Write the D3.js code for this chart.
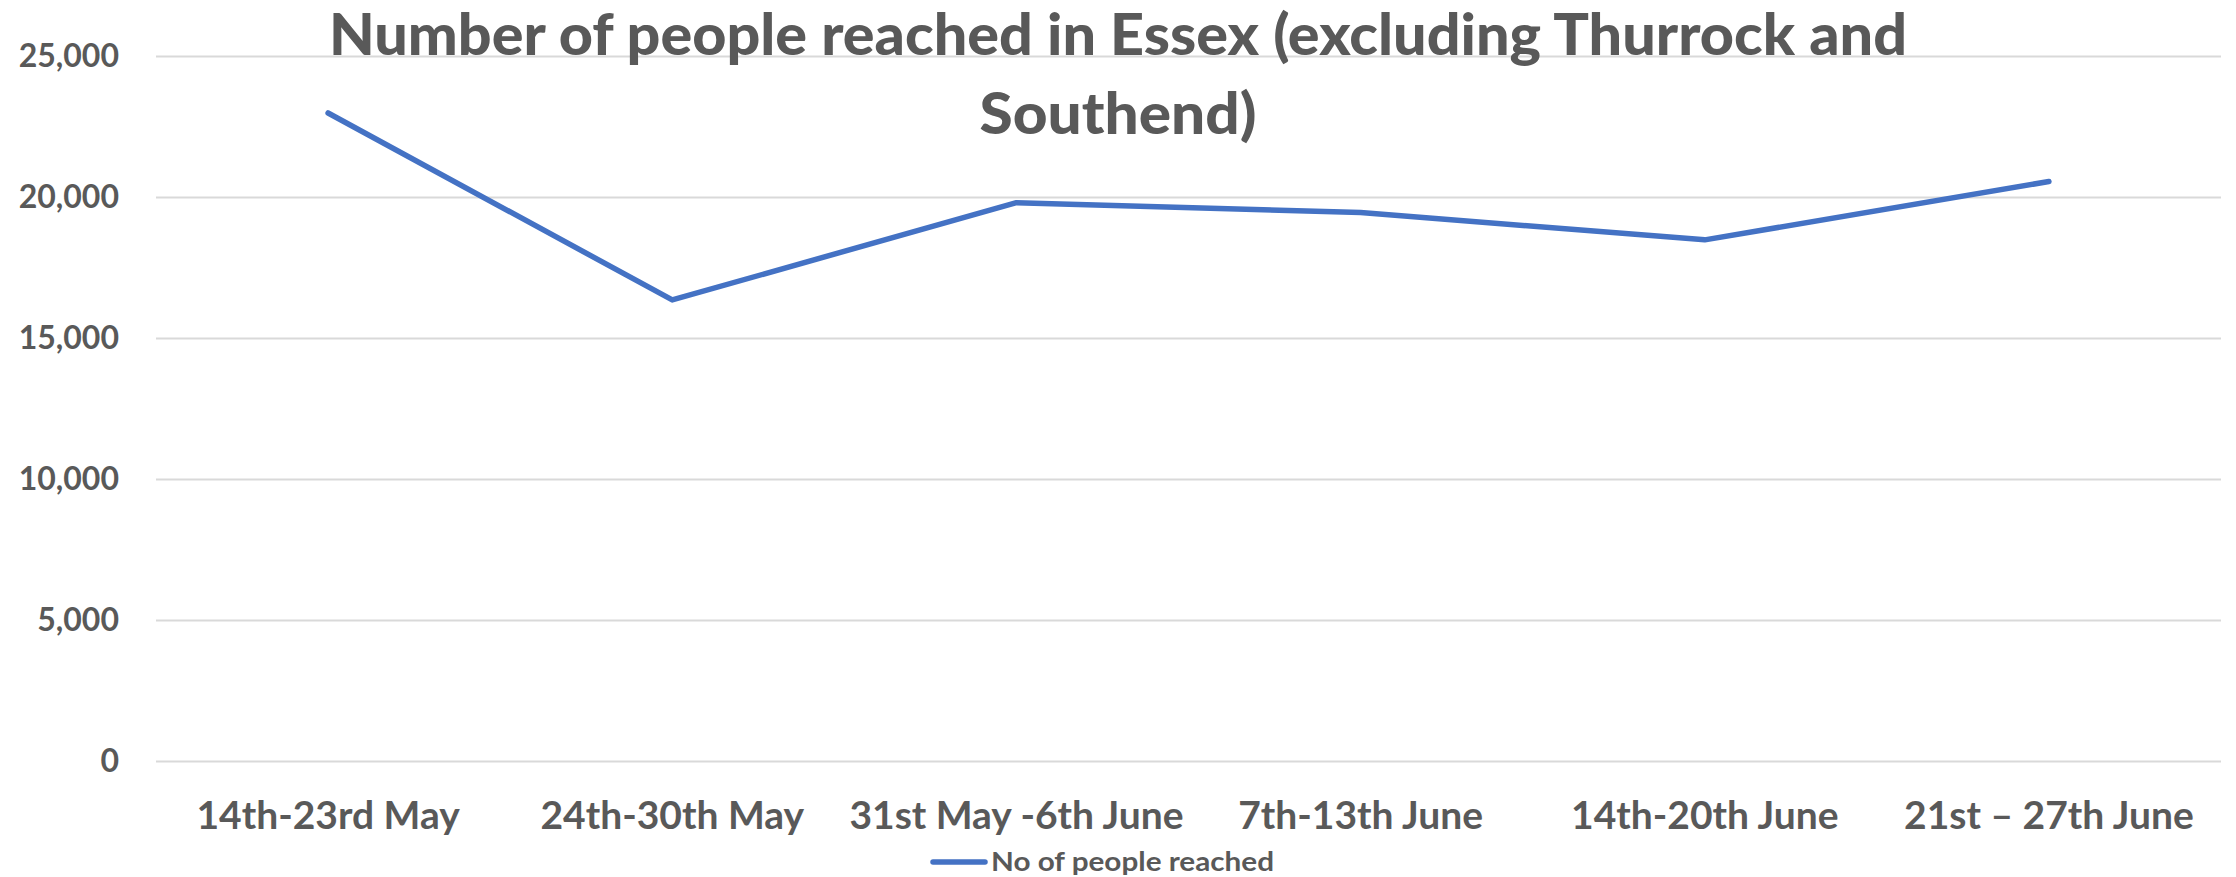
<!DOCTYPE html>
<html>
<head>
<meta charset="utf-8">
<script src="https://cdn.jsdelivr.net/npm/d3@7"></script>
<style>
  body { margin: 0; background: #fff; }
  text { font-family: Lato, "Open Sans", sans-serif; font-weight: bold; fill: #595959; }
</style>
</head>
<body>
<svg width="2236" height="877"></svg>
<script>
// data
var weeks = ["14th-23rd May", "24th-30th May", "31st May -6th June", "7th-13th June", "14th-20th June", "21st \u2013 27th June"];
var reached = [22980, 16350, 19800, 19450, 18480, 20550];
var yTicks = [0, 5000, 10000, 15000, 20000, 25000];
var titleLines = ["Number of people reached in Essex (excluding Thurrock and", "Southend)"];
var seriesName = "No of people reached";

function main() {
    var svg = d3.select("svg"),
        left = 156, right = 2221,
        top = 56, bottom = 761;

    var xScale = d3.scaleBand().domain(weeks).range([left, right]),
        yScale = d3.scaleLinear().domain([0, 25000]).range([bottom, top]);

    // gridlines + y labels
    var yAxis = svg.append("g").attr("transform", "translate(" + left + ",0)")
        .call(d3.axisLeft(yScale).tickValues(yTicks).tickFormat(d3.format(",")).tickSize(-(right - left)).tickPadding(37));
    yAxis.select(".domain").remove();
    yAxis.selectAll("line").attr("stroke", "#d9d9d9").attr("stroke-width", 2);
    yAxis.selectAll("text").attr("font-size", "32px").attr("fill", "#595959")
        .style("font-family", "Lato, sans-serif").style("font-weight", "bold");

    // x labels
    var xAxis = svg.append("g").attr("transform", "translate(0," + bottom + ")")
        .call(d3.axisBottom(xScale).tickSize(0).tickPadding(40));
    xAxis.select(".domain").remove();
    xAxis.selectAll("text").attr("font-size", "39px").attr("fill", "#595959")
        .style("font-family", "Lato, sans-serif").style("font-weight", "bold");

    // the line
    var line = d3.line()
        .x(function(d, i){ return xScale(weeks[i]) + xScale.bandwidth() / 2; })
        .y(function(d){ return yScale(d); });
    svg.append("path").datum(reached)
        .attr("d", line)
        .attr("fill", "none")
        .attr("stroke", "#4472c4")
        .attr("stroke-width", 5.5)
        .attr("stroke-linecap", "round")
        .attr("stroke-linejoin", "round");

    // title
    var titleW = [1578, 277];
    svg.selectAll(".title").data(titleLines).enter().append("text")
        .attr("class", "title")
        .attr("x", 1118)
        .attr("y", function(d, i){ return 55 + i * 79; })
        .attr("text-anchor", "middle")
        .attr("font-size", "57px")
        .style("font-weight", 900)
        .attr("textLength", function(d, i){ return titleW[i]; })
        .attr("lengthAdjust", "spacingAndGlyphs")
        .text(function(d){ return d; });

    // legend
    svg.append("line").attr("x1", 933).attr("x2", 985).attr("y1", 862).attr("y2", 862)
        .attr("stroke", "#4472c4").attr("stroke-width", 5.5).attr("stroke-linecap", "round");
    svg.append("text").attr("x", 991).attr("y", 871)
        .attr("font-size", "27px")
        .attr("textLength", 283)
        .attr("lengthAdjust", "spacingAndGlyphs")
        .text(seriesName);
}

main();
</script>
</body>
</html>
